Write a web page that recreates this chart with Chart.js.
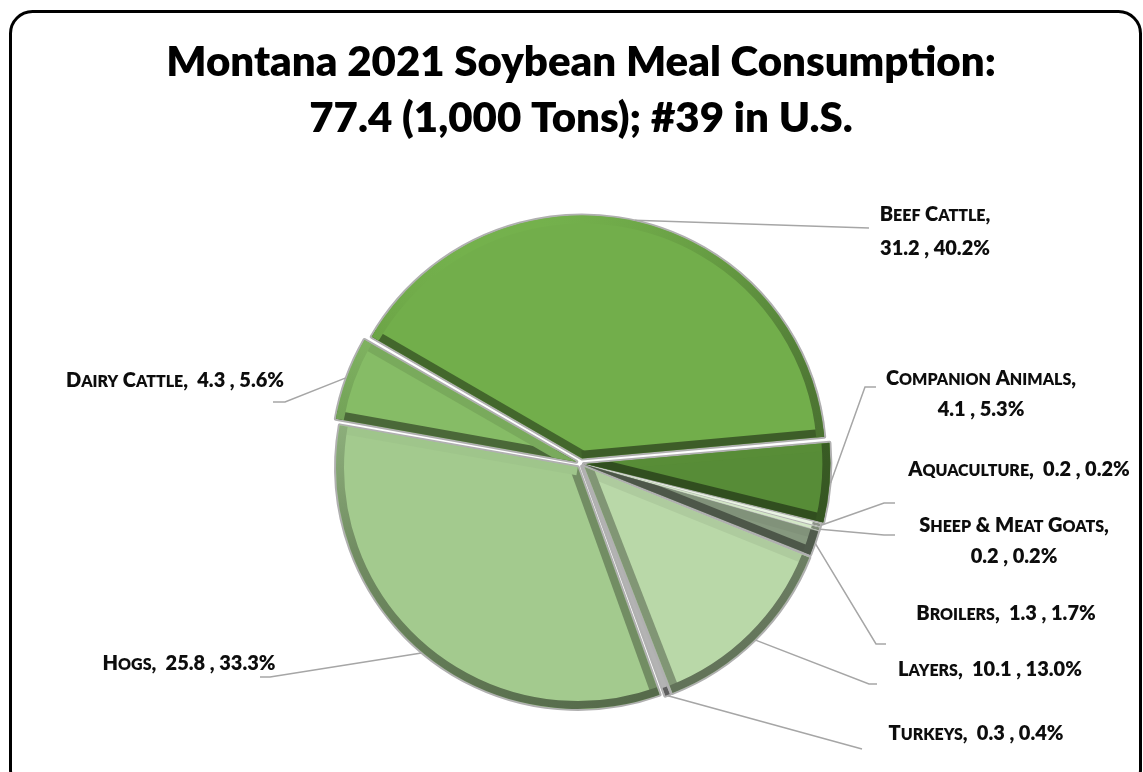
<!DOCTYPE html>
<html>
<head>
<meta charset="utf-8">
<script src="https://cdn.jsdelivr.net/npm/chart.js@4.4.1/dist/chart.umd.min.js"></script>
<style>
html,body{margin:0;padding:0;background:#ffffff;}
#wrap{width:1143px;height:772px;position:relative;}
</style>
</head>
<body>
<div id="wrap"><canvas id="c" width="1143" height="772"></canvas></div>
<script>
// ---------- data ----------
const titleLines = ['Montana 2021 Soybean Meal Consumption:', '77.4 (1,000 Tons); #39 in U.S.'];
const categories = ['Beef Cattle', 'Companion Animals', 'Aquaculture', 'Sheep & Meat Goats', 'Broilers', 'Layers', 'Turkeys', 'Hogs', 'Dairy Cattle'];
const values = [31.2, 4.1, 0.2, 0.2, 1.3, 10.1, 0.3, 25.8, 4.3];
const percentLabels = ['40.2%', '5.3%', '0.2%', '0.2%', '1.7%', '13.0%', '0.4%', '33.3%', '5.6%'];

// ---------- styles ----------
const sliceColors = ['#72AE4B', '#578C37', '#EAF4E4', '#D3E7C7', '#86987F', '#B9D8A8', '#B3B3B3', '#A3CA8E', '#86BC66'];
const sliceOffsets = [20, 20, 12, 12, 12, 20, 12, 20, 20];
const FONT = 'Lato, "Open Sans", sans-serif';
const LABEL_WEIGHT = 800;

// label layout: text centre x, baselines, leader bend points
const labelLayout = [
  {x: 935,  base: [221, 255], split: true,  leader: [[869, 228]]},
  {x: 981,  base: [385, 416], split: true,  leader: [[865, 387], [876, 387]]},
  {x: 1019, base: [476],      split: false, leader: [[884, 503], [895, 503]]},
  {x: 1014, base: [532, 563], split: true,  leader: [[884, 535], [895, 535]]},
  {x: 1006, base: [620],      split: false, leader: [[876, 644], [886, 644]]},
  {x: 990,  base: [676],      split: false, leader: [[869, 684], [877, 684]]},
  {x: 976,  base: [740],      split: false, leader: [[862, 749]]},
  {x: 189,  base: [670],      split: false, leader: [[270, 677], [260, 677]]},
  {x: 175,  base: [387],      split: false, leader: [[285, 402], [273, 402]]}
];

// ---------- helpers ----------
function hexToRgb(h) {
  const n = parseInt(h.slice(1), 16);
  return [(n >> 16) & 255, (n >> 8) & 255, n & 255];
}
function shade(hex, m) {
  const c = hexToRgb(hex).map(v => Math.max(0, Math.min(255, Math.round(v * m))));
  return `rgb(${c[0]},${c[1]},${c[2]})`;
}
const LIGHT = -110 * Math.PI / 180;
function bright(phi) {
  const L = Math.cos(phi - LIGHT);
  return L >= 0 ? 0.70 + 0.32 * L : 0.70 + 0.17 * L;
}
function arcGeom(el) {
  const p = el.getProps(['x', 'y', 'startAngle', 'endAngle', 'outerRadius', 'circumference'], true);
  const off = (el.options.offset || 0) / 4;
  const half = (p.startAngle + p.endAngle) / 2;
  const fix = 1 - Math.sin(Math.min(Math.PI, p.circumference || 0));
  const ro = off * fix;
  const R = p.outerRadius + ro;
  const alpha = p.endAngle - p.startAngle;
  const beta = Math.max(0.001, alpha * R - ro / Math.PI) / R;
  const ao = (alpha - beta) / 2;
  return {cx: p.x + Math.cos(half) * off, cy: p.y + Math.sin(half) * off, R, a0: p.startAngle + ao, a1: p.endAngle - ao, half, circ: alpha};
}
function slicePath(ctx, g) {
  ctx.beginPath();
  ctx.moveTo(g.cx, g.cy);
  ctx.arc(g.cx, g.cy, g.R, g.a0, g.a1);
  ctx.closePath();
}
function drawSmallCaps(ctx, text, x, y, size) {
  const runs = [];
  for (const ch of text) {
    const lower = ch !== ch.toUpperCase();
    const s = lower ? size * 0.8 : size;
    const t = lower ? ch.toUpperCase() : ch;
    if (runs.length && runs[runs.length - 1].s === s) runs[runs.length - 1].t += t;
    else runs.push({t, s});
  }
  let total = 0;
  runs.forEach(r => { ctx.font = `${LABEL_WEIGHT} ${r.s}px ${FONT}`; r.w = ctx.measureText(r.t).width; total += r.w; });
  let cx = x - total / 2;
  ctx.textAlign = 'left';
  ctx.textBaseline = 'alphabetic';
  runs.forEach(r => { ctx.font = `${LABEL_WEIGHT} ${r.s}px ${FONT}`; ctx.fillText(r.t, cx, y); cx += r.w; });
}

// ---------- plugins ----------
const framePlugin = {
  id: 'frame',
  afterDraw(chart) {
    const ctx = chart.ctx;
    ctx.save();
    ctx.strokeStyle = '#000000';
    ctx.lineWidth = 3;
    ctx.beginPath();
    ctx.roundRect(10.5, 11.5, 1130, 780, 22);
    ctx.stroke();
    ctx.restore();
  }
};

const outlinePlugin = {
  id: 'outline',
  beforeDatasetsDraw(chart) {
    const ctx = chart.ctx;
    const meta = chart.getDatasetMeta(0);
    ctx.save();
    ctx.strokeStyle = '#B0B0B0';
    ctx.lineWidth = 4;
    ctx.lineJoin = 'round';
    meta.data.forEach(el => { slicePath(ctx, arcGeom(el)); ctx.stroke(); });
    ctx.restore();
  }
};

const bevelPlugin = {
  id: 'bevel',
  afterDatasetsDraw(chart) {
    const ctx = chart.ctx;
    const meta = chart.getDatasetMeta(0);
    const bw = 8;
    meta.data.forEach((el, i) => {
      const g = arcGeom(el);
      const fill = sliceColors[i];
      ctx.save();
      slicePath(ctx, g);
      ctx.clip();
      ctx.lineWidth = bw * 2;
      ctx.lineCap = 'butt';
      if (g.circ > 3 * Math.PI / 180) {
        const ns = g.a0 - Math.PI / 2;
        ctx.strokeStyle = shade(fill, bright(ns));
        ctx.beginPath(); ctx.moveTo(g.cx, g.cy); ctx.lineTo(g.cx + g.R * Math.cos(g.a0), g.cy + g.R * Math.sin(g.a0)); ctx.stroke();
        const ne = g.a1 + Math.PI / 2;
        ctx.strokeStyle = shade(fill, bright(ne));
        ctx.beginPath(); ctx.moveTo(g.cx, g.cy); ctx.lineTo(g.cx + g.R * Math.cos(g.a1), g.cy + g.R * Math.sin(g.a1)); ctx.stroke();
      }
      const cg = ctx.createConicGradient(0, g.cx, g.cy);
      for (let k = 0; k <= 72; k++) {
        const phi = k / 72 * Math.PI * 2;
        cg.addColorStop(k / 72, shade(fill, bright(phi)));
      }
      ctx.strokeStyle = cg;
      ctx.beginPath(); ctx.arc(g.cx, g.cy, g.R, g.a0, g.a1); ctx.stroke();
      ctx.restore();
    });
  }
};

const labelPlugin = {
  id: 'sliceLabels',
  afterDatasetsDraw(chart) {
    const ctx = chart.ctx;
    const meta = chart.getDatasetMeta(0);
    meta.data.forEach((el, i) => {
      const g = arcGeom(el);
      const lay = labelLayout[i];
      ctx.save();
      ctx.strokeStyle = '#A6A6A6';
      ctx.lineWidth = 1.5;
      ctx.beginPath();
      const r0 = g.R + 1;
      ctx.moveTo(g.cx + r0 * Math.cos(g.half), g.cy + r0 * Math.sin(g.half));
      lay.leader.forEach(pt => ctx.lineTo(pt[0], pt[1]));
      ctx.stroke();
      ctx.restore();
      const valTxt = values[i].toFixed(1) + ' , ' + percentLabels[i];
      ctx.save();
      ctx.fillStyle = '#0D0D0D';
      if (lay.split) {
        drawSmallCaps(ctx, categories[i] + ',', lay.x, lay.base[0], 20);
        drawSmallCaps(ctx, valTxt, lay.x, lay.base[1], 20);
      } else {
        drawSmallCaps(ctx, categories[i] + ',  ' + valTxt, lay.x, lay.base[0], 20);
      }
      ctx.restore();
    });
  }
};

// ---------- chart ----------
new Chart(document.getElementById('c'), {
  type: 'pie',
  data: {
    labels: categories,
    datasets: [{
      data: values,
      backgroundColor: sliceColors,
      borderWidth: 0,
      offset: sliceOffsets,
      hoverOffset: 0
    }]
  },
  options: {
    responsive: false,
    animation: false,
    rotation: -60,
    layout: {padding: {left: 19, right: 0, top: 0, bottom: 57.5}},
    events: [],
    plugins: {
      legend: {display: false},
      tooltip: {enabled: false},
      title: {
        display: true,
        text: titleLines,
        color: '#000000',
        font: {family: FONT, size: 42, weight: 800, lineHeight: 1.3333},
        padding: {top: 34, bottom: 66.5}
      }
    }
  },
  plugins: [outlinePlugin, bevelPlugin, labelPlugin, framePlugin]
});
</script>
</body>
</html>
